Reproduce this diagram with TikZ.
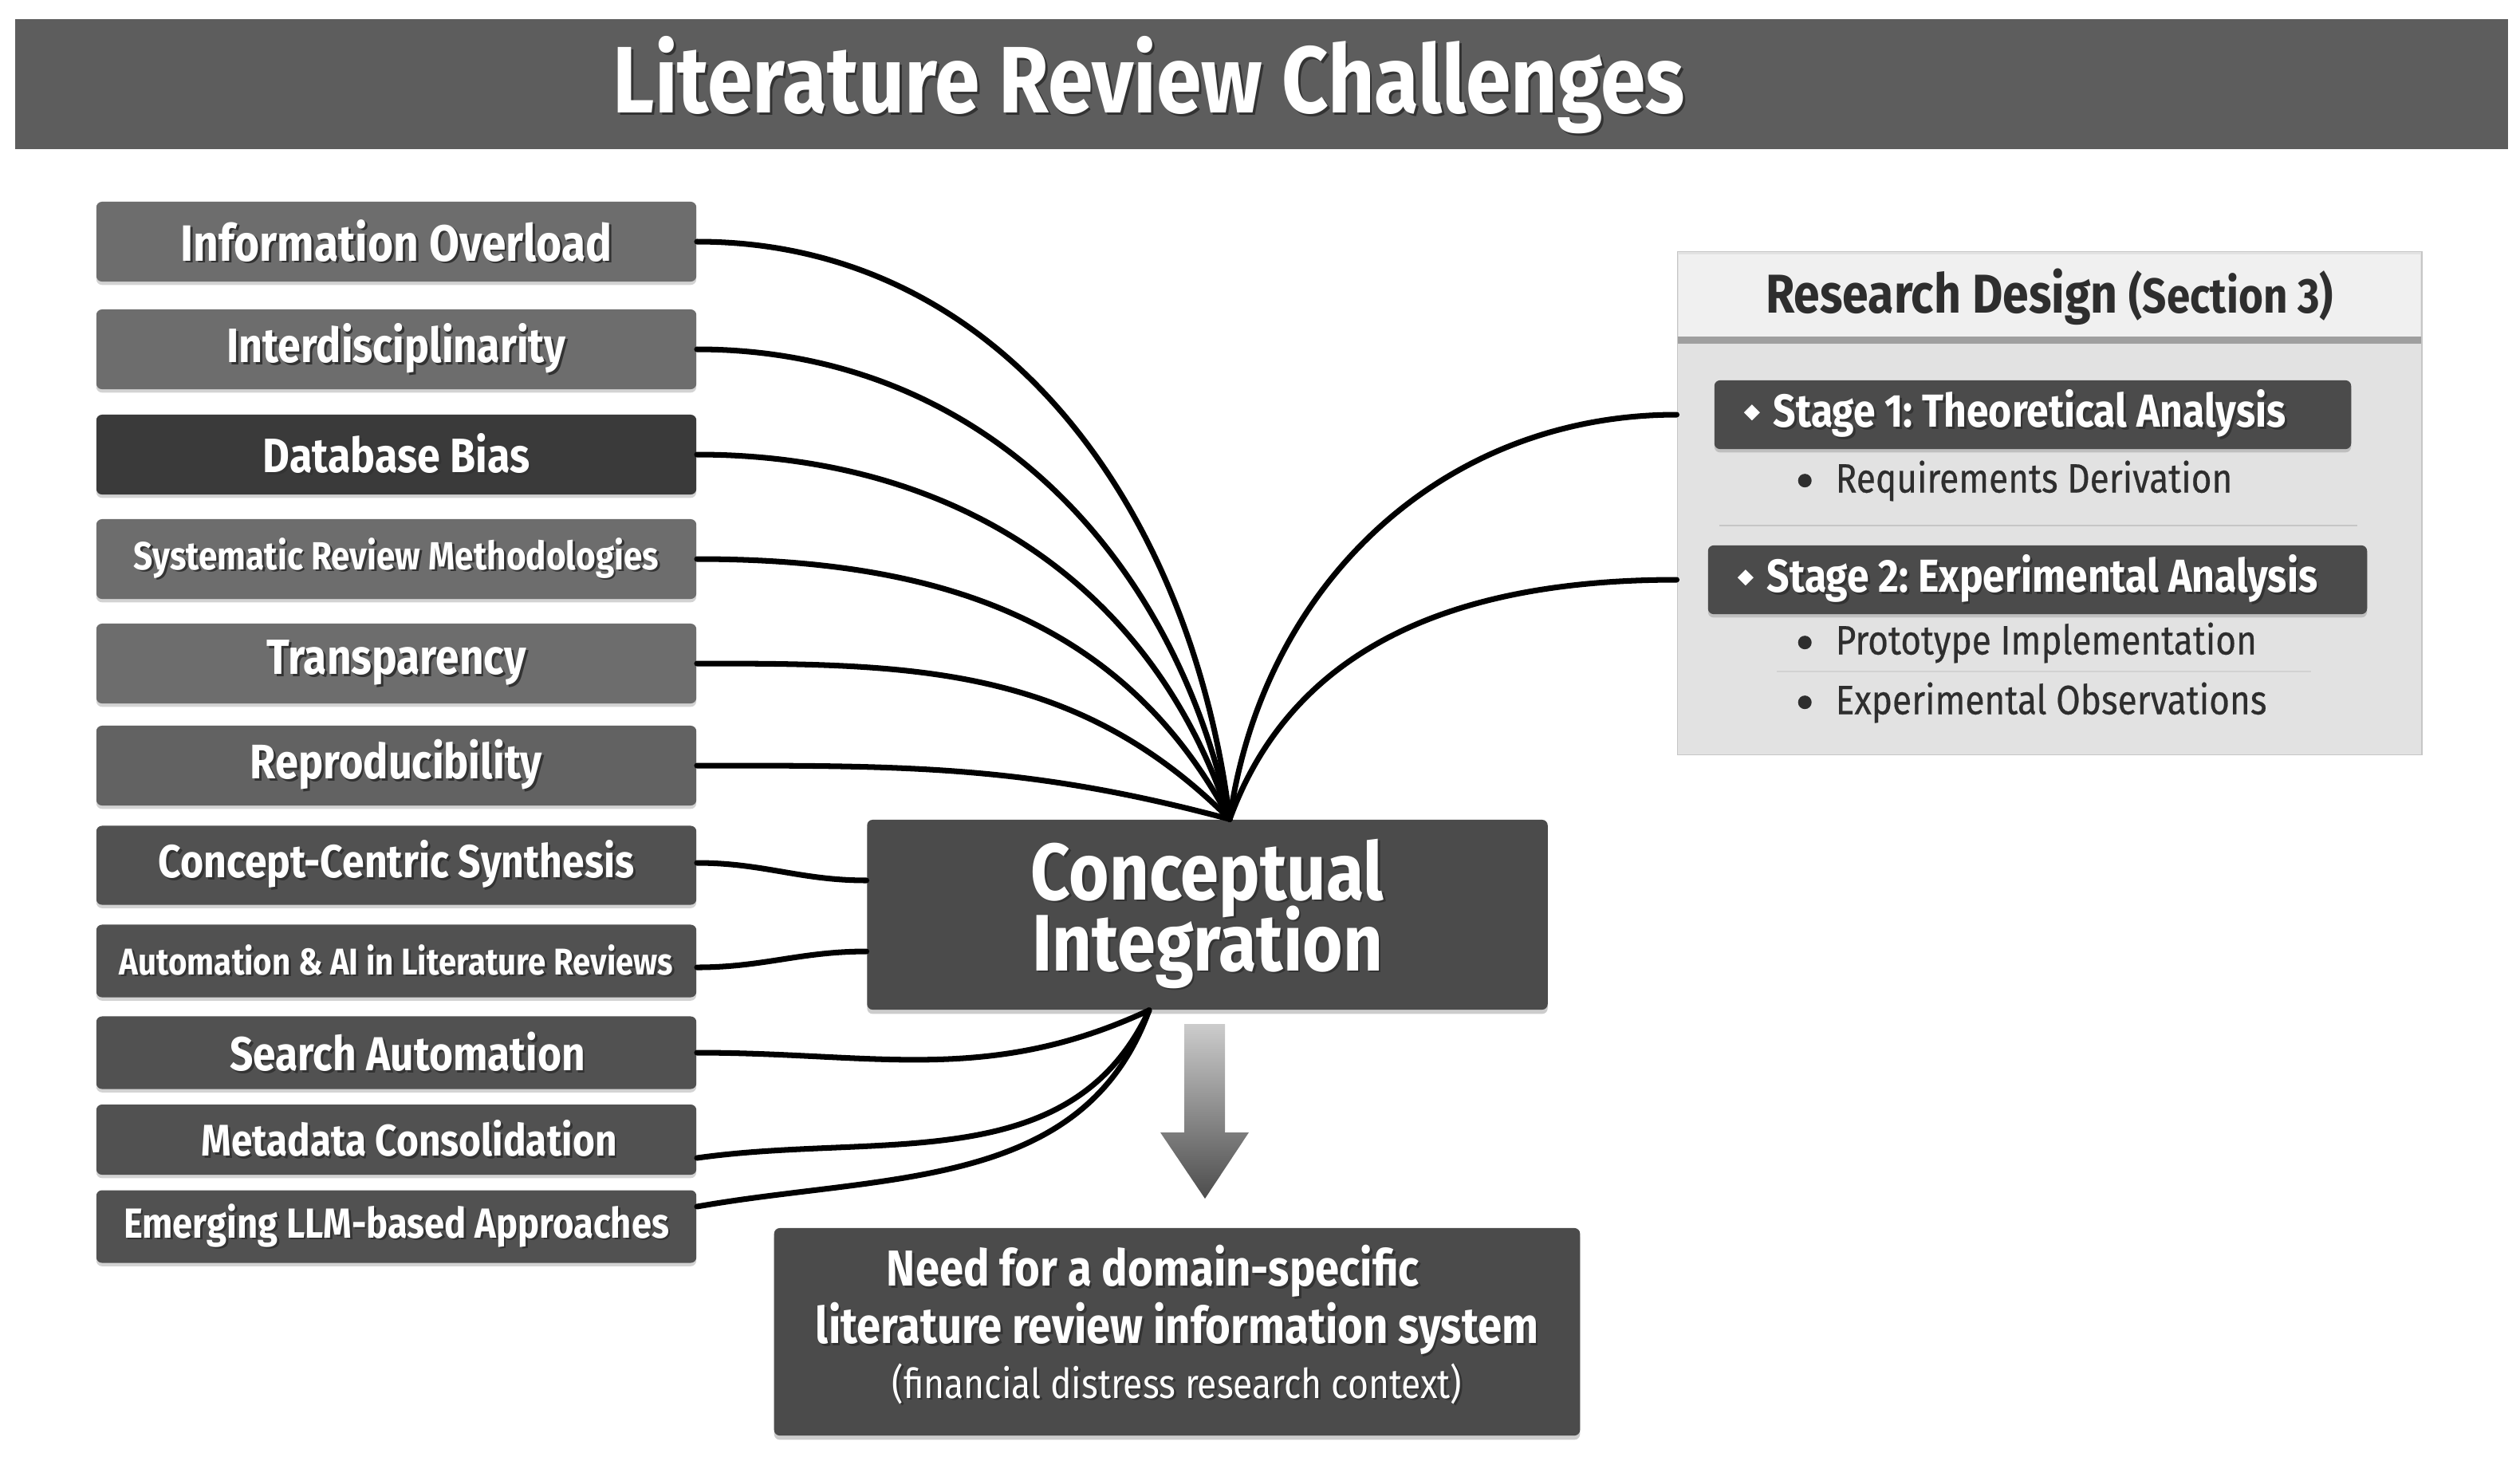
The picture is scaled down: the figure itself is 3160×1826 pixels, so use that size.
\documentclass[tikz,border=0pt]{standalone}
\usepackage{fontspec}
\setmainfont{Fira Sans}[FakeStretch=0.86]
\usepackage{tikz}
\usetikzlibrary{calc, positioning, shadows}

\definecolor{barGray}{HTML}{5D5D5D}
\definecolor{chalGray}{HTML}{6D6D6D}
\definecolor{repGray}{HTML}{626262}
\definecolor{biasGray}{HTML}{3A3A3A}
\definecolor{lowGray}{HTML}{515151}
\definecolor{coreGray}{HTML}{4B4B4B}
\definecolor{panelGray}{HTML}{E2E2E2}
\definecolor{textDark}{HTML}{2E2E2E}

% white text with a dark drop shadow
\newcommand{\shd}[1]{\makebox[0pt][l]{\kern0.8pt\raisebox{-0.8pt}{\color{black!80}#1}}#1}
\newcommand{\stagemark}{\tikz[baseline=-0.6ex, sharp corners]\fill[white] (0,0.1cm) -- (0.1cm,0) -- (0,-0.1cm) -- (-0.1cm,0) -- cycle;}
\newcommand{\itemdot}{\tikz[baseline=-0.55ex]\fill[textDark] (0,0) circle (0.085cm);}

\begin{document}
\frenchspacing
\begin{tikzpicture}[x=0.01cm, y=0.01cm,
    chal/.style={fill=chalGray, rounded corners=2pt, minimum width=7.52cm, minimum height=1cm,
      inner sep=0pt, text=white, font=\bfseries\fontsize{17}{20}\selectfont,
      drop shadow={shadow xshift=0pt, shadow yshift=-1.2pt, opacity=0.35}},
    low/.style={chal, fill=lowGray, minimum height=0.91cm},
    core/.style={fill=coreGray, rounded corners=2pt, minimum width=8.53cm, minimum height=2.38cm,
      text=white, align=center, font=\bfseries\fontsize{28.6}{24}\selectfont,
      drop shadow={shadow xshift=0pt, shadow yshift=-1.5pt, opacity=0.4}},
    stagebox/.style={fill=coreGray, rounded corners=2pt, minimum height=0.78cm, inner xsep=0.37cm,
      text=white, font=\bfseries\fontsize{16.5}{18}\selectfont,
      drop shadow={shadow xshift=0pt, shadow yshift=-1.2pt, opacity=0.35}},
    subitem/.style={anchor=west, text=textDark, font=\fontsize{14.6}{16}\selectfont\addfontfeature{FakeBold=0.4}, inner sep=0pt},
    link/.style={line width=2pt, line cap=round}]

\useasboundingbox (0,0) rectangle (3160,-1826);

% Title
\node[fill=barGray, minimum width=31.24cm, minimum height=1.63cm, inner sep=0pt] (bar) at (1582,-105.5) {};
\node[text=white, font=\bfseries\fontsize{33.7}{36}\selectfont] (title) at (1441,-108) {\shd{Literature Review Challenges}};

% Challenges
\node[chal, font=\bfseries\fontsize{18.2}{20}\selectfont] (c1) at (497,-303) {\shd{Information Overload}};
\node[chal, font=\bfseries\fontsize{17.2}{20}\selectfont] (c2) at (497,-438) {\shd{Interdisciplinarity}};
\node[chal, fill=biasGray, font=\bfseries\fontsize{17.2}{20}\selectfont] (c3) at (497,-570) {\shd{Database Bias}};
\node[chal, font=\bfseries\fontsize{14}{16}\selectfont] (c4) at (497,-701) {\shd{Systematic Review Methodologies}};
\node[chal, font=\bfseries\fontsize{17.6}{20}\selectfont] (c5) at (497,-832) {\shd{Transparency}};
\node[chal, fill=repGray, font=\bfseries\fontsize{17.3}{20}\selectfont] (c6) at (497,-960) {\shd{Reproducibility}};
\node[low, minimum height=0.99cm, font=\bfseries\fontsize{16.5}{18}\selectfont] (c7) at (497,-1085) {\shd{Concept-Centric Synthesis}};
\node[low, font=\bfseries\fontsize{13.3}{16}\selectfont] (c8) at (497,-1205) {\shd{Automation \& AI in Literature Reviews}};
\node[low] (c9) at (497,-1320) {\hspace*{0.28cm}\shd{Search Automation}};
\node[low, minimum height=0.88cm, font=\bfseries\fontsize{15.8}{18}\selectfont] (c10) at (497,-1429) {\hspace*{0.32cm}\shd{Metadata Consolidation}};
\node[low, font=\bfseries\fontsize{15}{18}\selectfont] (c11) at (497,-1538) {\shd{Emerging LLM-based Approaches}};

% Core and outcome
\node[core] (ci) at (1514,-1147) {\shd{Conceptual}\\[-6pt]\shd{Integration}};
\coordinate (hub) at ([xshift=0.28cm]ci.north);
\coordinate (foot) at ([xshift=-0.73cm]ci.south);

\node[core, minimum width=10.1cm, minimum height=2.6cm, font=\bfseries\fontsize{18}{20.5}\selectfont] (nd) at (1476,-1670)
  {\shd{Need for a domain-specific}\hspace*{0.6cm}\\[0pt]\shd{literature review information system}\\[-1pt]
   {\mdseries\fontsize{14.7}{16}\selectfont \shd{(financial distress research context)}\rule[-0.26cm]{0pt}{0.1cm}}};

\shade[top color=gray!40, bottom color=black!70] (1485,-1284) -- (1536,-1284) -- (1536,-1420) -- (1566,-1420)
  -- (1511,-1503) -- (1455,-1420) -- (1485,-1420) -- cycle;

% Research design panel
\node[fill=panelGray, draw=gray!45, minimum width=9.33cm, minimum height=6.31cm, inner sep=0pt] (rd) at (2570,-631) {};
\node[fill=gray!12, minimum width=9.3cm, minimum height=1.07cm, inner sep=0pt, below=1pt of rd.north, text=textDark,
  font=\bfseries\fontsize{19.5}{20}\selectfont] (rdh) {Research Design {\fontsize{17.5}{18}\selectfont(Section 3)}};
\draw[line width=2.5pt, gray!75] (rdh.south west) -- (rdh.south east);

\node[stagebox] (s1) at (2549,-520) {\makebox[7.24cm][l]{\stagemark\hspace{0.17cm}\shd{Stage 1: Theoretical Analysis}}};
\node[subitem] (r1) at (2254,-603) {\itemdot\hspace{0.3cm}Requirements Derivation};
\draw[gray!45, line width=0.8pt] (2156,-659) -- (2956,-659);
\node[stagebox] (s2) at (2555,-727) {\makebox[7.52cm][l]{\stagemark\hspace{0.17cm}\shd{Stage 2: Experimental Analysis}}};
\node[subitem] (r2) at (2254,-806) {\itemdot\hspace{0.3cm}Prototype Implementation};
\draw[gray!35, line width=0.6pt] (2228,-842) -- (2898,-842);
\node[subitem] (r3) at (2254,-881) {\itemdot\hspace{0.3cm}Experimental Observations};

% Links
\foreach \n/\a in {c1/97, c2/102, c3/108, c4/118, c5/135, c6/165}
  \draw[link] (\n.east) to[out=0, in=\a] (hub);
\draw[link] (s1 -| rd.west) to[out=180, in=82] (hub);
\draw[link] (s2 -| rd.west) to[out=180, in=70] (hub);
\draw[link] ([yshift=0.03cm]c7.east) to[out=0, in=180] ([yshift=0.43cm]ci.west);
\draw[link] ([yshift=-0.08cm]c8.east) to[out=0, in=180] ([yshift=-0.46cm]ci.west);
\draw[link] (c9.east) to[out=0, in=205] (foot);
\draw[link] ([yshift=-0.23cm]c10.east) to[out=8, in=245] (foot);
\draw[link] ([yshift=0.25cm]c11.east) to[out=10, in=250] (foot);
\end{tikzpicture}
\end{document}
